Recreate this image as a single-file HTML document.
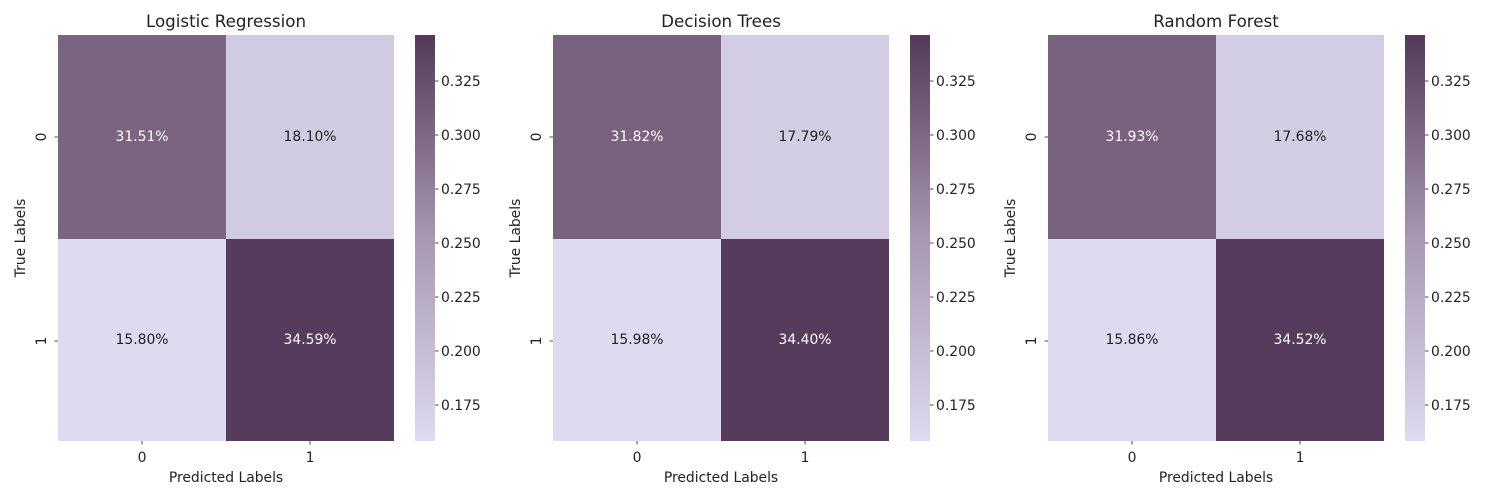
<!DOCTYPE html>
<html><head><meta charset="utf-8"><style>body{margin:0;background:#fff}svg{display:block}text{font-family:"DejaVu Sans","Liberation Sans",sans-serif;fill:#222}</style></head>
<body>
<svg width="1500" height="500" xmlns="http://www.w3.org/2000/svg">
<defs><linearGradient id="cb" x1="0" y1="1" x2="0" y2="0">
<stop offset="0" stop-color="#dedaef"/><stop offset="0.5" stop-color="#a897b2"/><stop offset="1" stop-color="#533a5a"/></linearGradient></defs>
<g>
<text x="226" y="27" font-size="16.7" text-anchor="middle">Logistic Regression</text>
<rect x="58" y="35" width="168" height="204" fill="#7a647f"/>
<rect x="226" y="35" width="168" height="204" fill="#d0cbe2"/>
<rect x="58" y="239" width="168" height="202" fill="#dedaef"/>
<rect x="226" y="239" width="168" height="202" fill="#553b5c"/>
<text x="142" y="141" font-size="13.9" text-anchor="middle" style="fill:#fff">31.51%</text>
<text x="310" y="141" font-size="13.9" text-anchor="middle">18.10%</text>
<text x="142" y="344" font-size="13.9" text-anchor="middle">15.80%</text>
<text x="310" y="344" font-size="13.9" text-anchor="middle" style="fill:#fff">34.59%</text>
</g>
<g transform="translate(495,0)">
<text x="226" y="27" font-size="16.7" text-anchor="middle">Decision Trees</text>
<rect x="58" y="35" width="168" height="204" fill="#79627e"/>
<rect x="226" y="35" width="168" height="204" fill="#d2cde3"/>
<rect x="58" y="239" width="168" height="202" fill="#dedaef"/>
<rect x="226" y="239" width="168" height="202" fill="#553b5c"/>
<text x="142" y="141" font-size="13.9" text-anchor="middle" style="fill:#fff">31.82%</text>
<text x="310" y="141" font-size="13.9" text-anchor="middle">17.79%</text>
<text x="142" y="344" font-size="13.9" text-anchor="middle">15.98%</text>
<text x="310" y="344" font-size="13.9" text-anchor="middle" style="fill:#fff">34.40%</text>
</g>
<g transform="translate(990,0)">
<text x="226" y="27" font-size="16.7" text-anchor="middle">Random Forest</text>
<rect x="58" y="35" width="168" height="204" fill="#78627d"/>
<rect x="226" y="35" width="168" height="204" fill="#d2cde3"/>
<rect x="58" y="239" width="168" height="202" fill="#dedaef"/>
<rect x="226" y="239" width="168" height="202" fill="#553b5c"/>
<text x="142" y="141" font-size="13.9" text-anchor="middle" style="fill:#fff">31.93%</text>
<text x="310" y="141" font-size="13.9" text-anchor="middle">17.68%</text>
<text x="142" y="344" font-size="13.9" text-anchor="middle">15.86%</text>
<text x="310" y="344" font-size="13.9" text-anchor="middle" style="fill:#fff">34.52%</text>
</g>
<script>
var s=document.querySelector('svg');var ns='http://www.w3.org/2000/svg';
function el(t,a,txt){var e=document.createElementNS(ns,t);for(var k in a)e.setAttribute(k,a[k]);if(txt)e.textContent=txt;s.appendChild(e);return e;}
[0,495,990].forEach(function(o){
 el('rect',{x:415+o,y:35,width:20,height:406,fill:'url(#cb)'});
 var ticks=['0.325','0.300','0.275','0.250','0.225','0.200','0.175'];
 ticks.forEach(function(t,i){var y=81+i*54;el('line',{x1:435+o,x2:438.5+o,y1:y,y2:y,stroke:'#222','stroke-width':0.8});el('text',{x:441+o,y:y+5,'font-size':13.9},t);});
 [142,310].forEach(function(x,i){el('line',{x1:x+o,x2:x+o,y1:441,y2:444.5,stroke:'#222','stroke-width':0.8});el('text',{x:x+o,y:462,'font-size':13.9,'text-anchor':'middle'},String(i));});
 [137,341].forEach(function(y,i){el('line',{x1:54.5+o,x2:58+o,y1:y,y2:y,stroke:'#222','stroke-width':0.8});el('text',{x:0,y:0,'font-size':13.9,'text-anchor':'middle',transform:'translate('+(46+o)+','+y+') rotate(-90)'},String(i));});
 el('text',{x:226+o,y:482,'font-size':13.9,'text-anchor':'middle'},'Predicted Labels');
 el('text',{x:0,y:0,'font-size':13.9,'text-anchor':'middle',transform:'translate('+(25+o)+',238) rotate(-90)'},'True Labels');
});
</script>
</svg>
</body></html>
